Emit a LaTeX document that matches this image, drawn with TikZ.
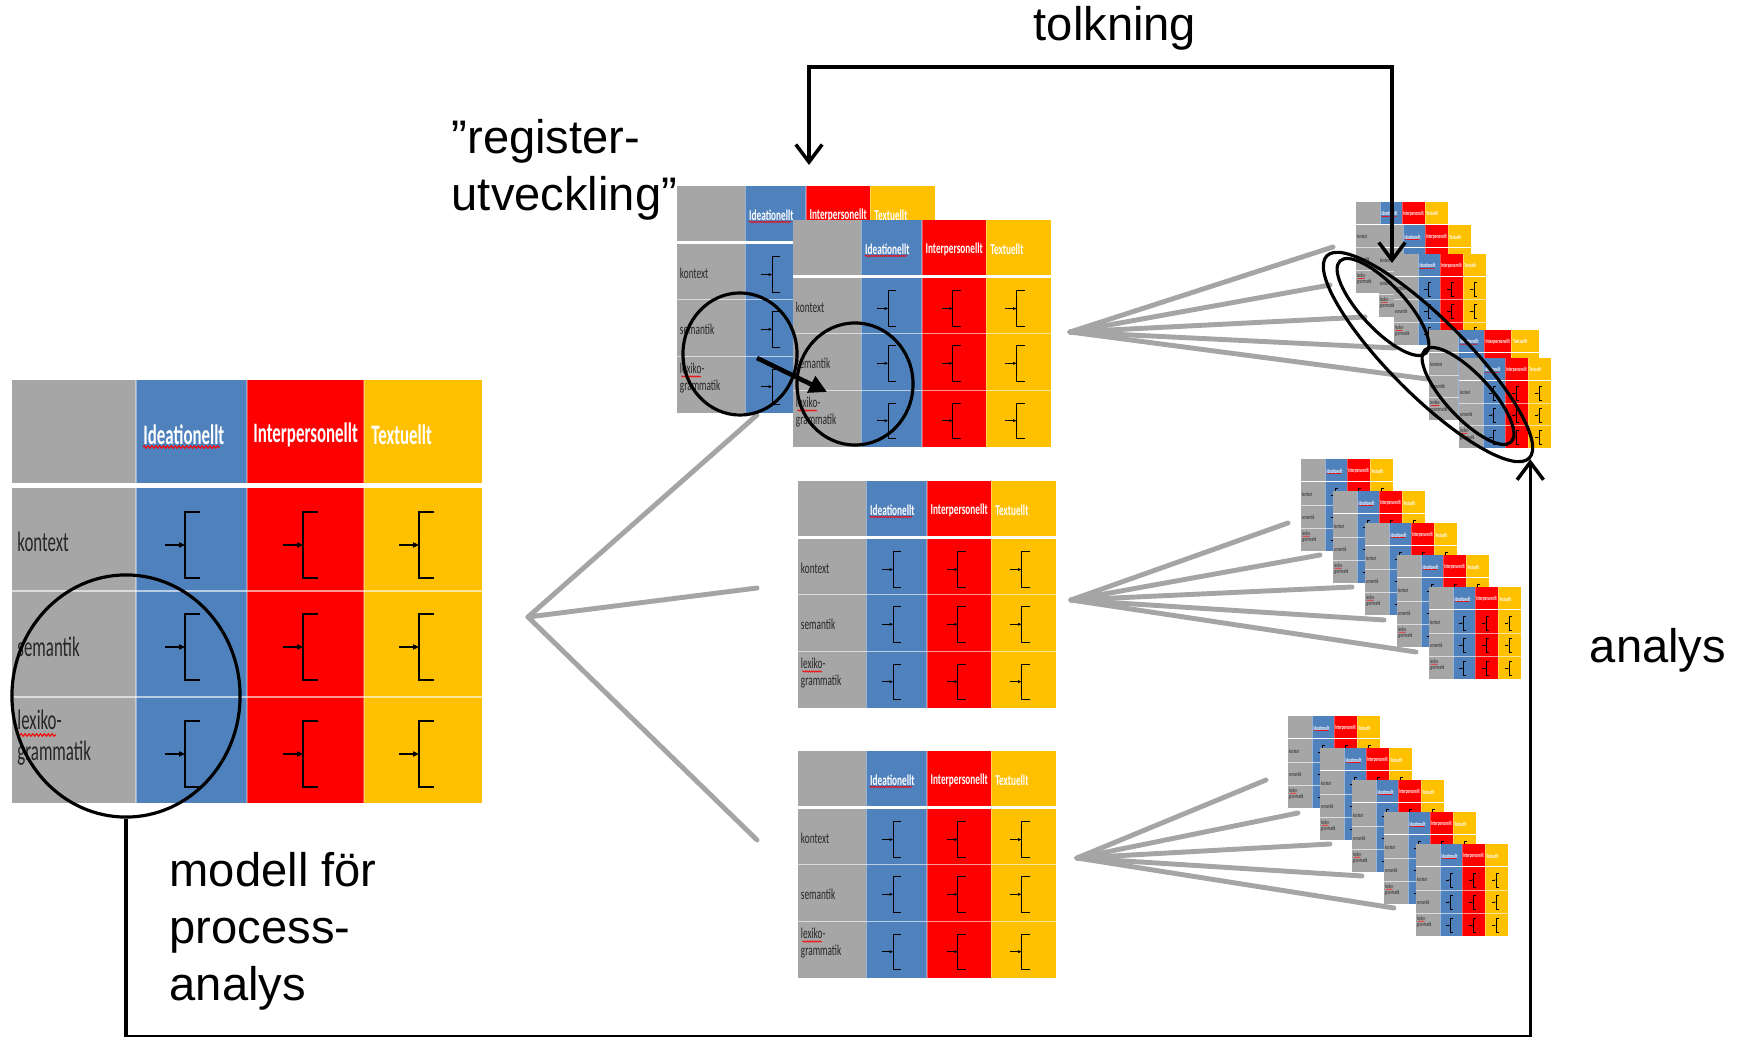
\documentclass[tikz,border=0pt]{standalone}
\usepackage{fontspec}
\setmainfont{Liberation Sans}
\newfontfamily\tabfont{Carlito}
\usetikzlibrary{positioning,calc,shapes.geometric,arrows.meta,decorations.pathmorphing}
\definecolor{colgray}{HTML}{A6A6A6}
\definecolor{colblue}{HTML}{4F81BD}
\definecolor{colred}{HTML}{FF0000}
\definecolor{colyellow}{HTML}{FFC000}
\definecolor{fangray}{HTML}{A5A5A5}

\tikzset{
  bigtext/.style={font=\fontsize{13.4}{16.2}\selectfont, align=left, inner sep=0pt},
  tabtext/.style={anchor=west, inner sep=0pt, text=black!85, xscale=0.6, transform shape,
    font=\tabfont\fontsize{8}{8.8}\selectfont},
  tabhead/.style={anchor=west, inner sep=0pt, text=white, xscale=0.6, transform shape,
    font=\tabfont\bfseries\fontsize{8}{8.8}\selectfont},
  fanline/.style={draw=fangray, line width=1.4pt, line cap=round},
  loopline/.style={draw=black, line width=1pt},
  ring/.style={ellipse, draw=black, line width=0.9pt, inner sep=0pt},
  barb/.tip={Straight Barb[length=5pt,width=7.5pt]},
}

% one table: left, top, width, height (px)
\newcommand{\regtab}[4]{%
  \begin{scope}[shift={(#1,#2)}, xscale=#3/470, yscale=#4/423]
    \pgfmathsetmacro\tablw{#3/470*0.45}
    \pgfmathsetmacro\tabamp{#3/470*0.35}
    \pgfmathsetmacro\tabseg{#3/470*1.1}
    \fill[colgray] (0,0) rectangle (124,423);
    \fill[colblue] (124,0) rectangle (235,423);
    \fill[colred] (235,0) rectangle (352,423);
    \fill[colyellow] (352,0) rectangle (470,423);
    \fill[white] (0,103) rectangle (470,108);
    \fill[white, opacity=0.6] (0,210) rectangle (470,212.5);
    \fill[white, opacity=0.6] (0,316) rectangle (470,318.5);
    \fill[white, opacity=0.4] (123,0) rectangle (125,423);
    \fill[white, opacity=0.3] (234,0) rectangle (236,423);
    \fill[white, opacity=0.3] (351,0) rectangle (353,423);
    % brackets
    \foreach \cx in {173,291,407} {
      \foreach \cy in {165,267,374} {
        \draw[line width=\tablw pt] (\cx+15,\cy-33) -- (\cx,\cy-33) -- (\cx,\cy+33) -- (\cx+15,\cy+33);
        \draw[line width=\tablw pt] (\cx-20,\cy) -- (\cx-4,\cy);
        \fill (\cx,\cy) -- (\cx-6,\cy-2.8) -- (\cx-6,\cy+2.8) -- cycle;
      }
    }
    \node[tabhead] at (131,55) {Ideationellt};
    \node[tabhead] at (241,55) {Interpersonellt};
    \node[tabhead] at (359,55) {Textuellt};
    \node[tabtext] at (5,162) {kontext};
    \node[tabtext] at (5,267) {semantik};
    \node[tabtext, align=left] at (5,358) {lexiko-\\grammatik};
    % spelling marks
    \draw[colred, line width=\tablw*0.7 pt, decorate,
      decoration={snake, amplitude=\tabamp pt, segment length=\tabseg pt}] (131,67) -- (208,67);
    \draw[colred, line width=\tablw*0.7 pt, decorate,
      decoration={snake, amplitude=\tabamp pt, segment length=\tabseg pt}] (8,355) -- (44,355);
  \end{scope}}

\begin{document}
\begin{tikzpicture}[x=0.01cm, y=-0.01cm]
  \useasboundingbox (0,0) rectangle (1748,1037);

  % fan lines
  \coordinate (fanL) at (528,617);
  \coordinate (fanT) at (1070,332);
  \coordinate (fanM) at (1071,600);
  \coordinate (fanB) at (1077,858);
  \foreach \n/\p in {1/{757,415},2/{757,588},3/{757,840}}
    \coordinate (fanL-\n) at (\p);
  \foreach \n/\p in {1/{1333,247},2/{1330,285},3/{1365,317},4/{1395,348},5/{1427,379}}
    \coordinate (fanT-\n) at (\p);
  \foreach \n/\p in {1/{1288,523},2/{1320,555},3/{1352,587},4/{1384,620},5/{1416,652}}
    \coordinate (fanM-\n) at (\p);
  \foreach \n/\p in {1/{1266,780},2/{1298,813},3/{1330,844},4/{1362,876},5/{1394,908}}
    \coordinate (fanB-\n) at (\p);
  \foreach \n in {1,2,3} \draw[fanline] (fanL) -- (fanL-\n);
  \foreach \f in {fanT,fanM,fanB}
    \foreach \n in {1,...,5} \draw[fanline] (\f) -- (\f-\n);

  % tables
  \regtab{12}{380}{470}{423}
  \regtab{677}{186}{258}{227}
  \regtab{793}{220}{258}{227}
  \regtab{798}{481}{258}{227}
  \regtab{798}{751}{258}{227}

  \regtab{1356}{202}{92}{91}
  \regtab{1379}{225}{92}{92}
  \regtab{1394}{254}{92}{91}
  \regtab{1429}{330}{110}{90}
  \regtab{1459}{358}{92}{90}
  \foreach \i in {0,...,4} {\regtab{1301+32*\i}{459+32*\i}{92}{92}}
  \foreach \i in {0,...,4} {\regtab{1288+32*\i}{716+32*\i}{92}{92}}

  % rings
  \node[ring, minimum width=2.28cm, minimum height=2.42cm] (ringA) at (126,696) {};
  \node[ring, minimum width=1.14cm, minimum height=1.22cm] (ringB) at (740,354) {};
  \node[ring, minimum width=1.16cm, minimum height=1.22cm] (ringC) at (855,384) {};
  \node[ring, rotate=-45, minimum width=2.86cm, minimum height=0.76cm] (ellBig) at (1428,357) {};
  \node[ring, rotate=-47, minimum width=1.26cm, minimum height=0.44cm] (ellA) at (1383,307) {};
  \node[ring, rotate=-47, minimum width=1.26cm, minimum height=0.44cm] (ellB) at (1468,396) {};

  \coordinate (shift-s) at (757,358);
  \coordinate (shift-e) at (827,392);
  \draw[line width=1.3pt, -{Triangle[length=5pt,width=5pt]}] (shift-s) -- (shift-e);

  % loops
  \coordinate (tolk-l) at (809,165);
  \coordinate (tolk-r) at (1392,263);
  \draw[loopline, barb-barb] (tolk-l) -- ++(0,-98) -| (tolk-r);
  \draw[loopline, -barb] (ringA.south) -- ++(0,218) -| (ellBig.east);

  % texts
  \node[bigtext] (tolkning) at (1115,28) {tolkning};
  \node[bigtext] (analys) at (1658,650) {analys};
  \node[bigtext, anchor=north west] (modell) at (169,852) {modell för\\process-\\analys};
  \node[bigtext, anchor=north west] (register) at (451,119) {”register-\\utveckling”};
\end{tikzpicture}
\end{document}
